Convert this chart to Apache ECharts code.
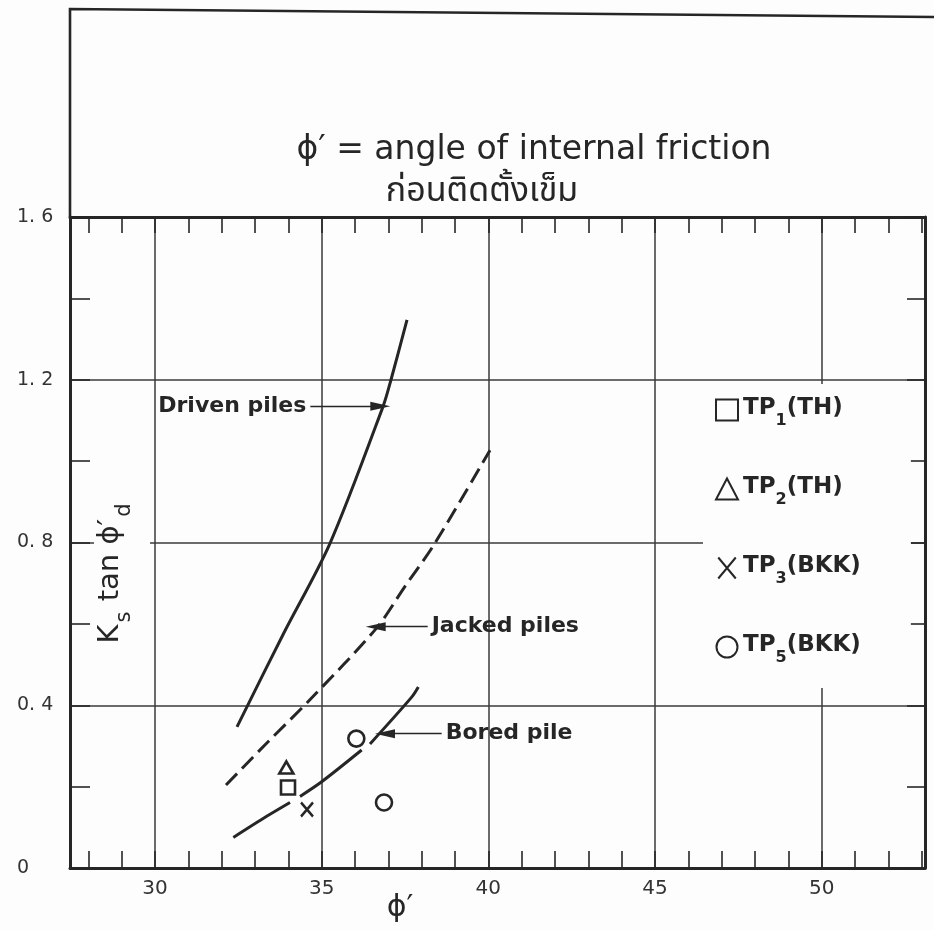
<!DOCTYPE html>
<html>
<head>
<meta charset="utf-8">
<script src="https://cdn.jsdelivr.net/npm/echarts@6/dist/echarts.min.js"></script>
<style>
  html, body { margin: 0; padding: 0; background: #fdfdfd; }
  #chart { width: 934px; height: 930px; }
</style>
</head>
<body>
<div id="chart"></div>
<script>
// Axis extents and tick positions (friction angle in degrees, K_s tan(phi_d) ratio)
const xMin = 27.45;
const xMax = 53.1;
const xMinorTicks = [28, 29, 30, 31, 32, 33, 34, 35, 36, 37, 38, 39, 40, 41, 42, 43, 44, 45, 46, 47, 48, 49, 50, 51, 52, 53];
const xMajorTicks = [30, 35, 40, 45, 50];
const yMin = 0;
const yMax = 1.6;
const yMajorStep = 0.4;
const yMinorStep = 0.2;

// Design curves: [phi', Ks tan(phi'd)]
const drivenPiles = [[32.46, 0.347], [33.85, 0.575], [35.24, 0.796], [36.84, 1.134], [37.08, 1.2], [37.56, 1.347]];
const jackedPiles = [[32.13, 0.204], [33.34, 0.306], [34.64, 0.413], [36.64, 0.589], [37.49, 0.691], [38.38, 0.796], [40.05, 1.027]];
const boredPile = [[32.35, 0.075], [33.35, 0.127], [34.05, 0.161], [34.2, '-'], [34.35, 0.176], [35.0, 0.212], [36.2, 0.29], [36.3, '-'], [36.45, 0.305], [37.7, 0.42], [37.9, 0.445]];

// Test pile results
const tp1 = [[33.99, 0.198]];
const tp2 = [[33.94, 0.247]];
const tp3 = [[34.56, 0.144]];
const tp5 = [[36.04, 0.318], [36.87, 0.161]];

// Curve labels with arrow shafts: [label, tail, head]
const drivenNote = ['Driven piles', [34.66, 1.135], [36.76, 1.135]];
const jackedNote = ['Jacked piles', [38.18, 0.593], [36.62, 0.593]];
const boredNote = ['Bored pile', [38.6, 0.33], [36.9, 0.33]];

const legendNames = ['TP1(TH)', 'TP2(TH)', 'TP3(BKK)', 'TP5(BKK)'];

const INK = '#262626';
const GRID = '#3a3a3a';
const FONT = '"DejaVu Sans", "Noto Sans", sans-serif';
const ARROW = 'path://M5,0L10,22L0,22Z';
const CROSS = 'path://M0,0L10,12M10,0L0,12';

function noteLine(note) {
  return {
    silent: true,
    animation: false,
    lineStyle: { color: INK, width: 1.4, type: 'solid' },
    label: {
      show: true,
      position: 'start',
      distance: 4,
      formatter: note[0],
      color: INK,
      fontFamily: FONT,
      fontWeight: 'bold',
      fontSize: 22
    },
    emphasis: { disabled: true },
    data: [[
      { coord: note[1], symbol: 'none' },
      { coord: note[2], symbol: ARROW, symbolSize: [9, 20] }
    ]]
  };
}

const chart = echarts.init(document.getElementById('chart'), null, { renderer: 'canvas' });

const hollow = { color: 'rgba(0,0,0,0)', borderColor: INK, borderWidth: 2.6, opacity: 1 };

const option = {
  backgroundColor: '#fdfdfd',
  animation: false,
  grid: { left: 70, right: 9, top: 217, bottom: 62, containLabel: false },
  xAxis: [
    {
      type: 'value', min: xMin, max: xMax, position: 'bottom',
      axisLine: { show: true, onZero: false, lineStyle: { color: INK, width: 3 } },
      axisTick: { show: true, inside: true, length: 17, customValues: xMinorTicks, lineStyle: { color: INK, width: 1.6 } },
      axisLabel: { show: true, customValues: xMajorTicks, margin: 11, color: '#333', fontFamily: FONT, fontSize: 20 },
      splitLine: { show: false }
    },
    {
      type: 'value', min: xMin, max: xMax, position: 'bottom',
      axisLine: { show: false },
      axisTick: { show: false, customValues: xMajorTicks },
      axisLabel: { show: false, customValues: xMajorTicks },
      splitLine: { show: true, lineStyle: { color: GRID, width: 1.5 } }
    },
    {
      type: 'value', min: xMin, max: xMax, position: 'top',
      axisLine: { show: true, onZero: false, lineStyle: { color: INK, width: 3 } },
      axisTick: { show: true, inside: true, length: 16, customValues: xMinorTicks, lineStyle: { color: INK, width: 1.6 } },
      axisLabel: { show: false },
      splitLine: { show: false }
    }
  ],
  yAxis: [
    {
      type: 'value', min: yMin, max: yMax, interval: yMajorStep, position: 'left',
      axisLine: { show: true, onZero: false, lineStyle: { color: INK, width: 3 } },
      axisTick: { show: false },
      axisLabel: {
        show: true, align: 'left', margin: 53, color: '#333', fontFamily: FONT, fontSize: 19,
        formatter: v => (v === 0 ? '0' : v.toFixed(1).replace('.', '. '))
      },
      splitLine: { show: true, lineStyle: { color: GRID, width: 1.5 } }
    },
    {
      type: 'value', min: yMin, max: yMax, interval: yMinorStep, position: 'left',
      axisLine: { show: false },
      axisTick: { show: true, inside: true, length: 20, lineStyle: { color: INK, width: 1.6 } },
      axisLabel: { show: false },
      splitLine: { show: false }
    },
    {
      type: 'value', min: yMin, max: yMax, interval: yMinorStep, position: 'right',
      axisLine: { show: true, onZero: false, lineStyle: { color: INK, width: 3 } },
      axisTick: { show: true, inside: true, length: 18, lineStyle: { color: INK, width: 1.6 } },
      axisLabel: { show: false },
      splitLine: { show: false }
    }
  ],
  legend: {
    orient: 'vertical',
    left: 703,
    top: 384,
    padding: [13, 50, 22, 12],
    backgroundColor: '#fdfdfd',
    itemWidth: 22,
    itemHeight: 21,
    itemGap: 47,
    selectedMode: false,
    data: legendNames,
    formatter: name => {
      const m = name.match(/^TP(\d)(.*)$/);
      return '{m|TP}{sub|' + m[1] + '}{m|' + m[2] + '}';
    },
    textStyle: {
      color: INK,
      fontFamily: FONT,
      rich: {
        m: { fontSize: 23, fontWeight: 'bold', lineHeight: 26, verticalAlign: 'top', color: INK, fontFamily: FONT },
        sub: { fontSize: 16, fontWeight: 'bold', lineHeight: 16, padding: [16, 0, 0, 0], verticalAlign: 'top', color: INK, fontFamily: FONT }
      }
    }
  },
  graphic: [
    {
      type: 'polyline', z: 5, silent: true,
      shape: { points: [[70, 217], [70, 9], [934, 17]] },
      style: { stroke: INK, lineWidth: 2.6, fill: null }
    },
    {
      type: 'text', z: 5, silent: true, x: 534, y: 150,
      style: { text: 'ϕ′ = angle of internal friction', fill: INK, font: '33px "DejaVu Sans", sans-serif', align: 'center', verticalAlign: 'middle' }
    },
    {
      type: 'text', z: 5, silent: true, x: 482, y: 194,
      style: { text: 'ก่อนติดตั้งเข็ม', fill: INK, font: '34px "Noto Sans Thai", "Noto Sans", "DejaVu Sans", sans-serif', align: 'center', verticalAlign: 'middle' }
    },
    {
      type: 'text', z: 10, silent: true, x: 122, y: 573, rotation: Math.PI / 2,
      style: {
        text: '{m|K}{s|s}{m| tan ϕ′}{s|d}',
        align: 'center', verticalAlign: 'middle',
        backgroundColor: '#fdfdfd',
        padding: [2, 6, 22, 6],
        rich: {
          m: { fontSize: 29, lineHeight: 32, verticalAlign: 'top', fill: INK, fontFamily: FONT },
          s: { fontSize: 21, lineHeight: 21, padding: [18, 1, 0, 2], verticalAlign: 'top', fill: INK, fontFamily: FONT }
        }
      }
    },
    {
      type: 'text', z: 5, silent: true, x: 400, y: 908,
      style: { text: 'ϕ′', fill: INK, font: '30px "DejaVu Sans", sans-serif', align: 'center', verticalAlign: 'middle' }
    }
  ],
  series: [
    {
      name: 'Driven piles', type: 'line', xAxisIndex: 0, yAxisIndex: 0,
      data: drivenPiles, smooth: 0.3, showSymbol: false, silent: true,
      lineStyle: { color: INK, width: 3 },
      markLine: noteLine(drivenNote)
    },
    {
      name: 'Jacked piles', type: 'line', xAxisIndex: 0, yAxisIndex: 0,
      data: jackedPiles, smooth: 0.3, showSymbol: false, silent: true,
      lineStyle: { color: INK, width: 3, type: [16, 7] },
      markLine: noteLine(jackedNote)
    },
    {
      name: 'Bored pile', type: 'line', xAxisIndex: 0, yAxisIndex: 0,
      data: boredPile, smooth: 0.3, showSymbol: false, silent: true, connectNulls: false,
      lineStyle: { color: INK, width: 3 },
      markLine: noteLine(boredNote)
    },
    {
      name: legendNames[0], type: 'scatter', xAxisIndex: 0, yAxisIndex: 0,
      data: tp1, symbol: 'rect', symbolSize: 14, itemStyle: hollow
    },
    {
      name: legendNames[1], type: 'scatter', xAxisIndex: 0, yAxisIndex: 0,
      data: tp2, symbol: 'triangle', symbolSize: [14, 12], itemStyle: hollow
    },
    {
      name: legendNames[2], type: 'scatter', xAxisIndex: 0, yAxisIndex: 0,
      data: tp3, symbol: CROSS, symbolSize: [12, 14], itemStyle: hollow
    },
    {
      name: legendNames[3], type: 'scatter', xAxisIndex: 0, yAxisIndex: 0,
      data: tp5, symbol: 'circle', symbolSize: 16, itemStyle: hollow
    }
  ]
};

chart.setOption(option);
</script>
</body>
</html>
